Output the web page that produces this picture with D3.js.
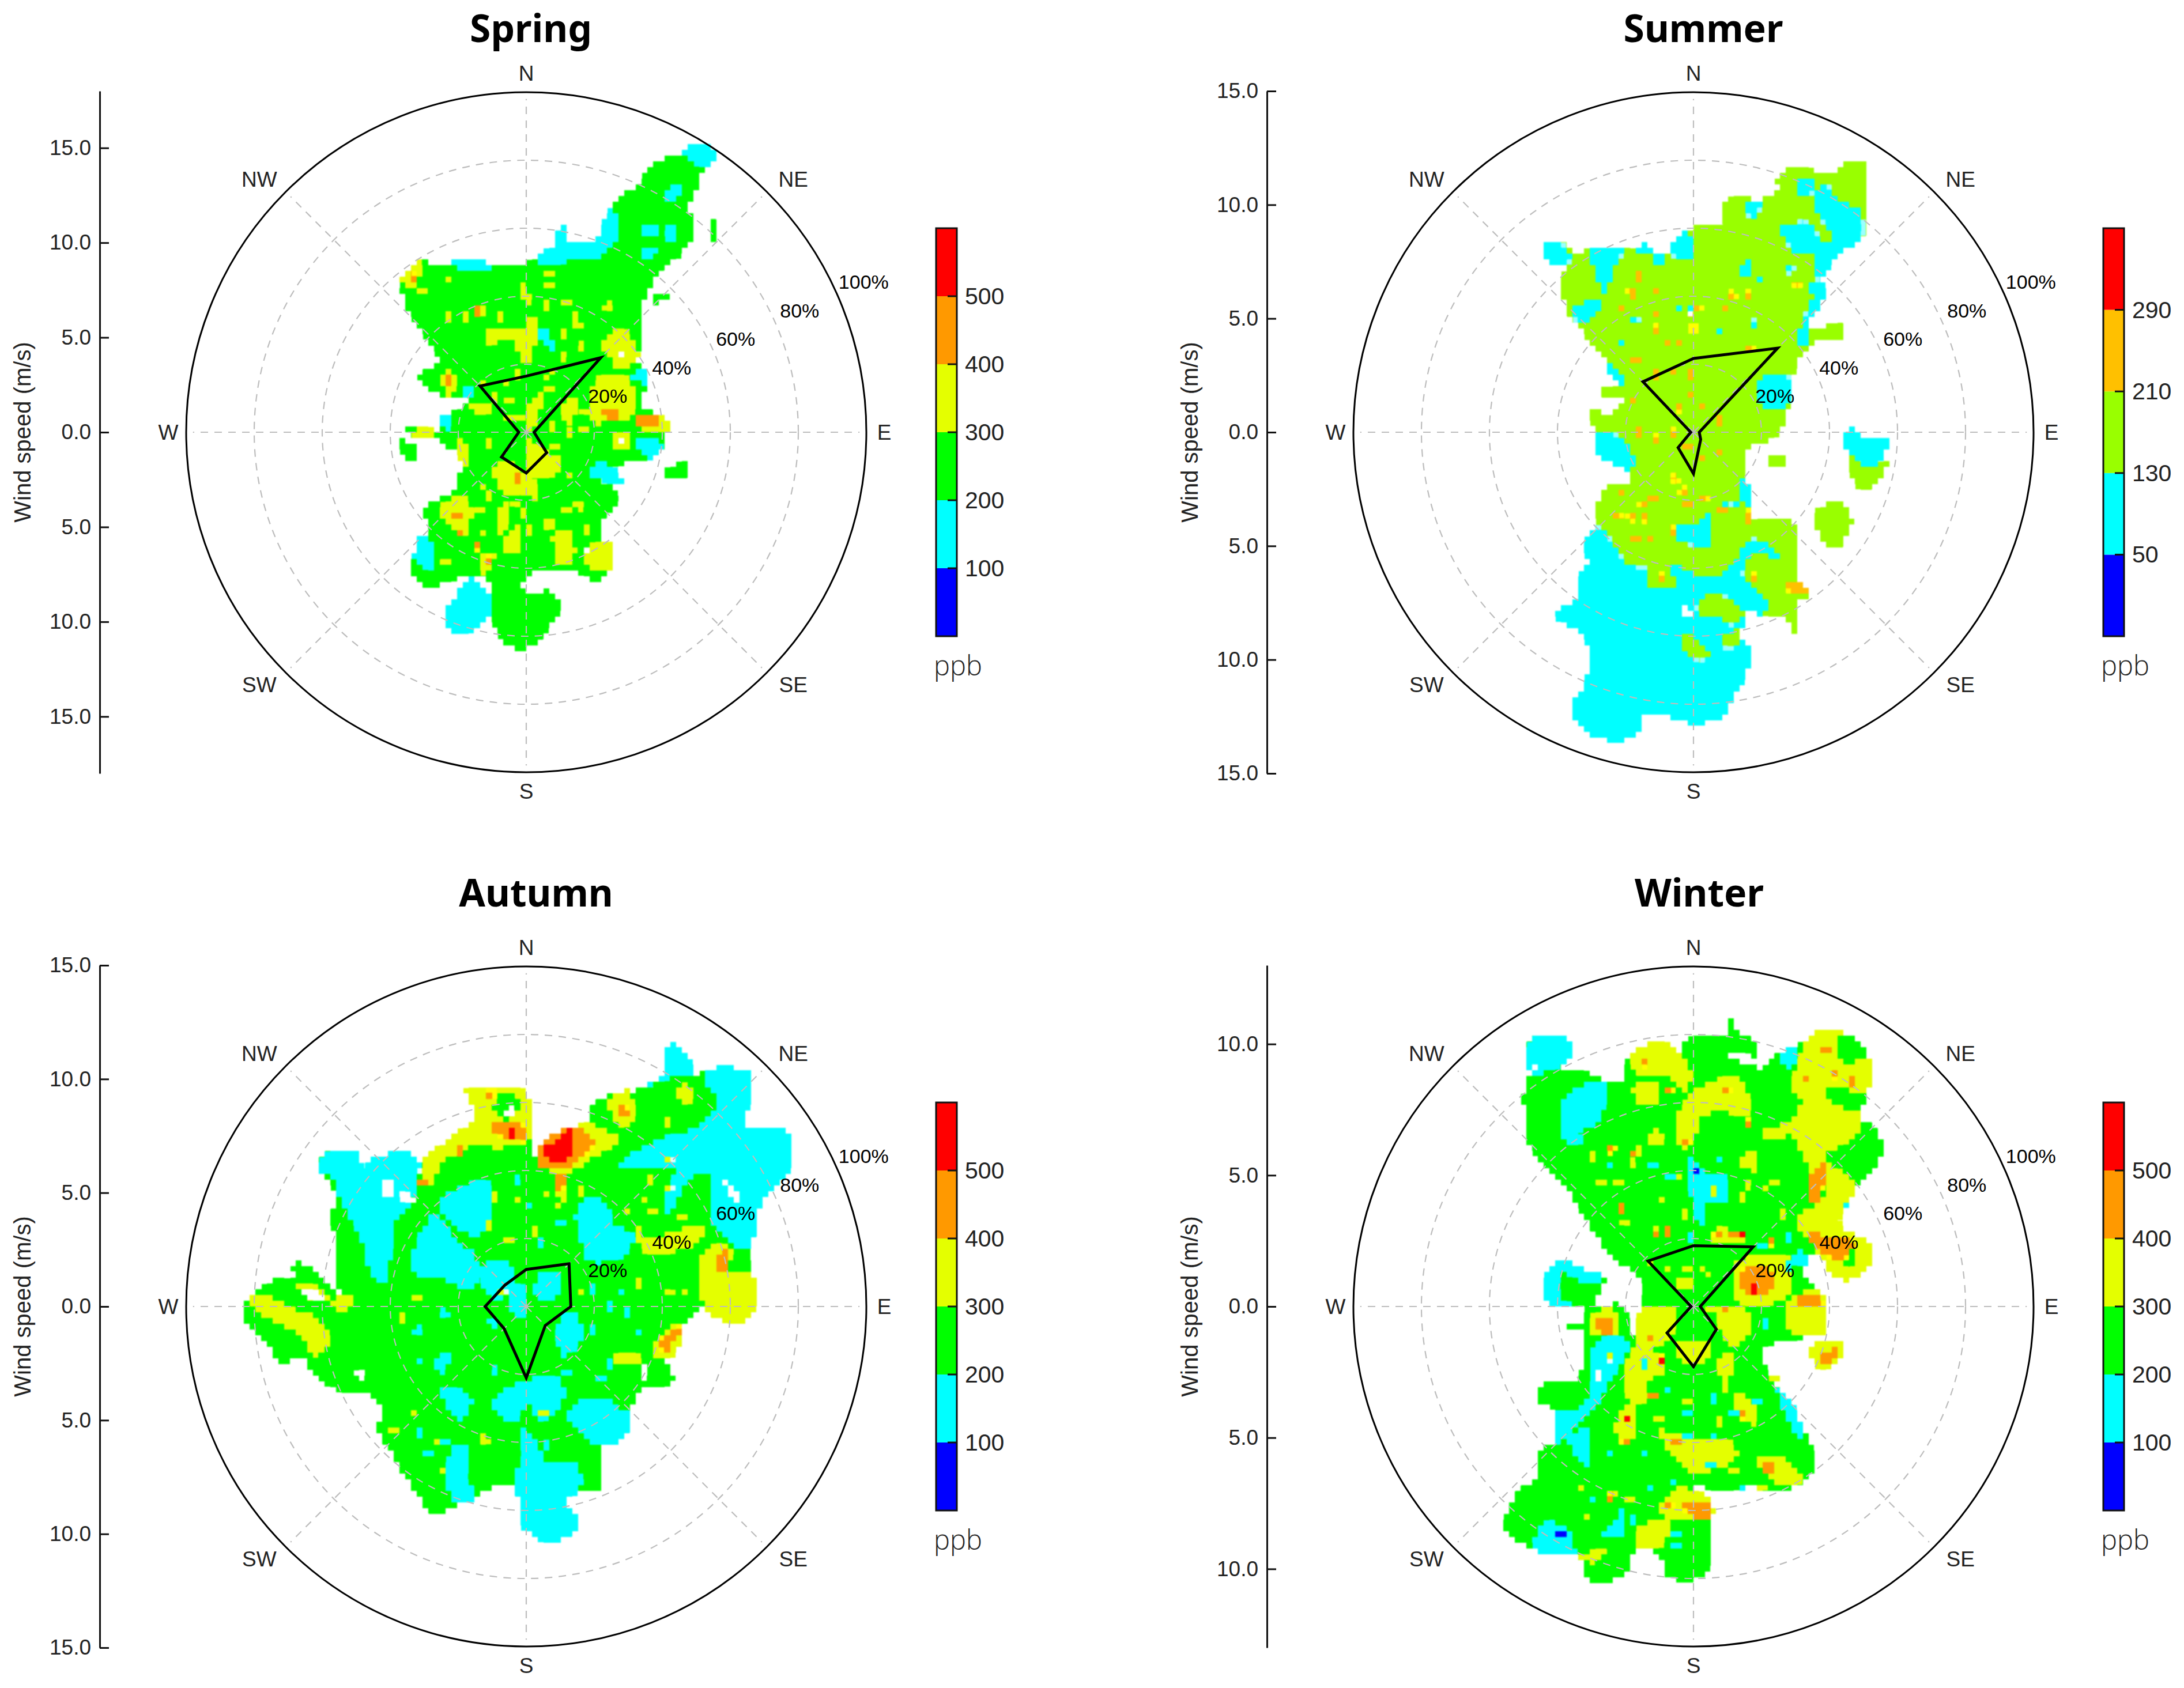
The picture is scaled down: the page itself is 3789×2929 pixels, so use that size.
<!DOCTYPE html>
<html>
<head>
<meta charset="UTF-8">
<script src="https://d3js.org/d3.v7.min.js"></script>
<style>
  body { margin: 0; background: white; }
  text { font-family: "Liberation Sans", Arial, sans-serif; fill: #222; }
  .title { font-family: "Noto Sans", sans-serif; font-weight: 700; font-size: 66px; fill: black; text-anchor: middle; }
  .grid { fill: none; stroke: #bdbdbd; stroke-width: 2.2px; stroke-dasharray: 13 11; }
  .rim { fill: none; stroke: black; stroke-width: 3px; }
  .rose { fill: none; stroke: black; stroke-width: 5px; stroke-linejoin: miter; }
  .axis path, .axis line { stroke: #111; stroke-width: 3px; }
  .axis text { font-size: 37px; font-family: "Liberation Sans", Arial, sans-serif; fill: #222; }
  .ppb { font-family: "Open Sans", sans-serif; font-weight: 300; font-size: 47px; fill: #222; }
</style>
</head>
<body>
<svg id="chart" width="3789" height="2929">
  <defs>
    <!-- the source plot is a coarse raster: sample the regions on a 10px lattice -->
    <filter id="cells" filterUnits="userSpaceOnUse" x="-600" y="-600" width="1200" height="1200" color-interpolation-filters="sRGB">
      <feFlood x="-596" y="-596" width="2" height="2" flood-color="black"/>
      <feComposite x="-600" y="-600" width="10" height="10"/>
      <feTile result="lattice"/>
      <feComposite in="SourceGraphic" in2="lattice" operator="in"/>
      <feMorphology operator="dilate" radius="4"/>
      <feGaussianBlur stdDeviation="1.3"/>
    </filter>
  </defs>
</svg>
<script>
// colour classes and colour bar ticks (ppb)
const ticksMain = [100, 200, 300, 400, 500];
const coloursMain = ['#0000ff', '#00ffff', '#00ff00', '#e4ff00', '#ff9900', '#ff0000'];
const ticksSummer = [50, 130, 210, 290];
const coloursSummer = ['#0000ff', '#00ffff', '#99ff00', '#ffc000', '#ff0000'];

const dirNames = ['N', 'NE', 'E', 'SE', 'S', 'SW', 'W', 'NW'];
const freqRings = [20, 40, 60, 80];
const freqLabels = [20, 40, 60, 80, 100];

// wind rose frequency (%), same order as dirNames
const springRose = [16.5, 31, 2.3, 8.5, 12, 10.3, 2.2, 19.2];
const summerRose = [21.7, 35, 1.7, 3, 12.2, 6.4, 0.8, 21];
const autumnRose = [10.9, 17.8, 13.1, 7.9, 21, 9.2, 12.1, 8.9];
const winterRose = [17.9, 24.8, 2, 9.5, 17.7, 11, 0.7, 18.9];

// regions are [east, north] in % of the radial axis
const springGreen = [
  [[36.8,78.1],[43.2,81.5],[51.7,79.5],[51,73.4],[47.8,66],[49.5,61.3],[47.8,55.3],[42,49.3],[39.4,47.9],[36.8,42.6],[33.5,36.5],[33.5,25.8],[32.9,21.1],[36.1,16.4],[34.2,7.7],[41.3,3.6],[41.3,-0.4],[39.4,-5.8],[32.9,-8.5],[25.1,-9.8],[19.2,-12.5],[25.7,-16.5],[26,-21.9],[22.5,-25.2],[21.8,-31.3],[24.8,-33.3],[24.8,-40],[19.9,-44],[16.6,-41.7],[8.2,-40.7],[0.4,-42],[-0.9,-46.7],[8.2,-47.1],[9.5,-52.8],[4.9,-59.5],[0.4,-63.5],[-4.8,-63.2],[-10,-54.8],[-10.6,-44],[-15.2,-42],[-21.7,-43.4],[-29.5,-45.6],[-34.3,-40],[-32.7,-36.6],[-28.8,-29.9],[-29.5,-22.6],[-19.7,-15.8],[-21,-13.8],[-16.8,-7.8],[-25.6,-3.1],[-24.9,3.6],[-20.4,6.3],[-16.5,9],[-25.6,11],[-31.4,16],[-25.6,21],[-28.2,25.8],[-36.2,39.2],[-36,45.2],[-30.8,50.6],[-25.6,49],[-10,49.3],[0.4,49.9],[9.5,52.6],[19.9,55.3],[26.4,68],[32.9,72.8]],
  [[-36.9,-2.4],[-32.7,-4.4],[-32.7,-8.5],[-35.3,-7.8]],
  [[-35.9,0.9],[-26.9,0.3],[-25,-2],[-32,-1.7]],
  [[40.6,-11.8],[47.8,-8.7],[47.8,-11],[45.9,-13.4],[40.6,-13.4]],
  [[54.9,62],[56,61],[56.3,56],[54.9,56]],
  [[37.4,39.9],[41.3,41.2],[41.3,39.2],[37.4,37.9]]
];
const springCyan = [
  [[46.5,83.5],[52.3,84.8],[55.6,81.5],[52.3,78.1],[46.5,82]],
  [[3,52],[8.2,54.6],[8.4,59.3],[12.1,60.3],[12.3,56],[19.9,56.6],[25,65.4],[27.7,60.7],[22.5,52],[10.8,50],[3,49.3]],
  [[-21.7,50],[-10,49.3],[-10,47.2],[-19.2,47.9]],
  [[-21.7,-49.4],[-16.5,-42.7],[-10,-49.4],[-10.6,-54.1],[-15.2,-58.1],[-22.3,-58.4],[-24,-52.8]],
  [[-32.7,-34],[-30.1,-29.9],[-26.9,-35.3],[-26.9,-40.7],[-32.7,-37.3]],
  [[18.6,-11.8],[22.5,-8.5],[28.3,-13.8],[28.3,-15.2],[19.9,-13.2]],
  [[41.3,70.7],[45.2,72.8],[43.9,67.4],[41.3,68]],
  [[34.8,61.3],[38.8,60.7],[38.1,57.3],[34.8,58]],
  [[41.9,61.3],[43.9,61.3],[43.9,56],[41.9,56]],
  [[34.8,54],[38,54.6],[37.4,51.3],[34.8,51.3]],
  [[4.3,31.1],[7.5,27.8],[8.2,23.8],[4.3,27]],
  [[32.9,19],[36.1,17],[35.5,14.4],[30.9,15.7]],
  [[32.9,-1.7],[39.9,-3],[37.4,-7.8],[32.9,-4.4]],
  [[-25.6,3.6],[-21.7,5.6],[-23,0.9]],
  [[-18.4,13],[-16.5,13.7],[-16.5,9.7],[-18.4,9.7]]
];
const springYellow = [
  [[-36.6,44.6],[-31.6,50.3],[-31,46.2],[-34,42.6]],
  [[-11.9,29.8],[-1.6,30.5],[1,33.8],[3,33.2],[1,21],[-1.6,21],[-4.2,27.8],[-11.9,25.6]],
  [[-1.6,43.9],[1,39.9],[0.4,37.2],[-1.6,41.2]],
  [[-23.6,19.7],[-21,15.7],[-22.3,9.7],[-24.5,13]],
  [[21.8,25],[27.7,31.1],[32.2,25],[32.9,21],[27,18.4],[25,21]],
  [[19.2,13.7],[23.1,17],[30.9,15],[30.9,5],[23.8,3],[19.9,2.3],[19.2,9]],
  [[32.9,3.6],[41.3,4.3],[41.3,-0.4],[39.4,0.3],[33.5,0.9]],
  [[25.7,-1],[29.6,-0.4],[29.6,-5],[25.7,-5]],
  [[0.4,-1.7],[4.3,-4.4],[10.8,-8.5],[8.2,-12.5],[0.4,-12.5]],
  [[-10,-11],[-6.1,-8.5],[3,-15.2],[3,-19.9],[-1.6,-17.9],[-6.1,-17.9]],
  [[-25.6,-22.6],[-18.7,-18.5],[-16.5,-27.2],[-19.1,-30.6],[-21.7,-27.9],[-24.9,-25.2]],
  [[-8.7,-23.9],[-6.1,-19.9],[-5.5,-25.9],[-6.8,-29.9],[-8.7,-28.6]],
  [[-6.1,-31.3],[-2.9,-27.2],[-1.6,-35.3],[-6.1,-35.3]],
  [[-13.2,-36],[-9.4,-35.3],[-11.9,-42],[-13.2,-40.7]],
  [[8.2,-28.6],[13.4,-29.3],[13.4,-38.7],[9.5,-38.7]],
  [[17.3,-34],[24.8,-32.9],[24.8,-40],[19.9,-40.7],[16.6,-36.6]],
  [[4.9,-25.2],[8.2,-25.2],[8.2,-27.7],[4.9,-27.7]],
  [[-16.5,8.3],[-10,8.3],[-10,6.3],[-16.5,6.3]],
  [[0.4,7.7],[4.3,11.7],[3,2.3],[0.4,0.9]],
  [[10.8,7.7],[14.7,10.3],[14.7,5],[12,2.3]],
  [[-32.7,0.9],[-26.9,0.3],[-27.5,-2],[-32.7,-1.7]],
  [[-19.7,-2.4],[-17.1,-4.4],[-17.8,-10.5],[-19.7,-7.1]]
];
const springYellowSpots = [[-22.7,44.6],[-30.8,41.9],[-8,33.8],[-23,33.8],[-17.8,33.8],[6.9,46.6],[6.9,43.2],[12.1,38.5],[23.8,37.2],[14.7,33.8],[15.3,31.1],[10.8,29.1],[10.8,37.9],[5.6,37.2],[-13.2,35.8],[16.6,25.1],[-12.6,14.4],[-9.4,10.3],[-4.8,9],[6.9,13],[5.6,15.7],[10.8,22.4],[17.3,6.3],[16.6,0.9],[12.7,-0.4],[8.2,1.7],[8.2,-4.4],[-13.9,-23.2],[-16.5,-23.9],[15.3,-21.9],[-23.6,-38.7],[12.7,-12.5],[-13,-15.8],[17.3,-28.6],[-6,14],[-2,17],[8,18],[-1,-24],[-11,-19],[-13,-30],[-3,-21],[1,-29],[12,-23],[-2,4],[-5,4],[-11,-3]];
const springOrange = [
  [[23.1,7],[27,7],[27,4.3],[23.1,4.3]],
  [[33,5],[38.3,5],[38.3,1.5],[33,1.5]]
];
const springOrangeSpots = [[-22.7,15.4],[-33.5,45.6],[-2.2,-13.6],[-20.4,-25],[-19,-29.2],[-14.5,-33.6],[-14,35.5],[-11.5,-37.5]];
const springWhiteSpots = [[28.3,22.5],[28,-2.8],[17.8,-34.8]];

const summerBase = [[24.7,75.4],[28.6,77.4],[41.6,76.8],[44.2,79.5],[50,79.5],[51.3,74.8],[51.3,65.4],[49.6,57.3],[44.2,53.3],[37.7,44.6],[39,41.2],[33.8,31.5],[44.2,31.1],[44.2,27.8],[36.4,26.4],[31.2,22.4],[29.2,15.7],[26.6,2.3],[22.7,-2.4],[15.6,-5.1],[14.9,-11.1],[16.6,-21.9],[15.6,-25.9],[29.2,-26.6],[30.5,-44.7],[34.4,-47.4],[30.5,-50.7],[29.9,-58.8],[26.6,-54.8],[20.8,-53.4],[15.6,-52.8],[14.9,-57.4],[11,-61.5],[15.8,-62.1],[16.2,-68.9],[11,-79.6],[7.8,-84.3],[-1.3,-85.6],[-7.8,-83.6],[-14.3,-83.6],[-16.9,-89.7],[-28.6,-89.7],[-35.7,-82.3],[-35.1,-78.9],[-31.8,-74.2],[-31.8,-60.8],[-39.6,-55.4],[-40.3,-52.8],[-34.4,-48.7],[-34.4,-43.4],[-31.2,-39.3],[-31.8,-32.6],[-27.9,-27.9],[-28.6,-21.9],[-24.7,-15.8],[-18.2,-14.5],[-18.8,-11.1],[-28.6,-5.8],[-28.6,-0.4],[-30.5,6.3],[-24.7,5.6],[-20.1,9.7],[-27.9,11.4],[-27.9,12.3],[-20.8,13.7],[-26,21.1],[-31.2,27.8],[-35.7,33.2],[-39,42.6],[-37.7,49.3],[-42.2,49.9],[-44.8,54],[-40.3,56.6],[-33.8,52.6],[-28.6,54.6],[-20.8,54],[-14.3,52.6],[-5.8,52.6],[-5.8,56.6],[-1.3,58.7],[0,61.6],[9.1,60.7],[8.4,66.7],[14.3,69.4],[19.5,67.4],[20.8,69.4],[24.7,70.7]];
const summerCyan = [
  [[-31.8,-32.6],[-27.9,-27.9],[-18.2,-39.3],[-5.2,-39.3],[1.3,-42],[9.1,-41.3],[13,-36.6],[16.9,-31.3],[24.7,-35.3],[22.1,-43.4],[20.8,-53.4],[15.6,-52.8],[14.9,-57.4],[11,-61.5],[15.8,-62.1],[16.2,-68.9],[11,-79.6],[7.8,-84.3],[-1.3,-85.6],[-7.8,-83.6],[-14.3,-83.6],[-16.9,-89.7],[-28.6,-89.7],[-35.7,-82.3],[-35.1,-78.9],[-31.8,-74.2],[-31.8,-60.8],[-39.6,-55.4],[-40.3,-52.8],[-34.4,-48.7],[-34.4,-43.4],[-31.2,-39.3]],
  [[-4.5,-27.9],[1.3,-27.2],[4.5,-23.9],[5.2,-32.6],[0,-33.3],[-4.5,-31.3]],
  [[35.1,67.4],[38.9,72.7],[42.8,68],[48.7,65.4],[49.6,57.3],[44.2,53.3],[37.7,44.6],[39,41.2],[33.8,31.5],[33.2,26.1],[30.5,26.1],[33.8,37],[36.4,43.9],[35.7,53.3],[40.2,57.3]],
  [[31.2,75],[35.1,74.4],[34.4,69.7],[31.2,70.3]],
  [[26,60.1],[34.4,61.5],[37,53],[29.9,53]],
  [[16.2,67.5],[19.5,67.4],[18.2,62.8],[16.2,63.5]],
  [[13.6,47],[15.6,51.7],[17.5,45.5],[13.6,45.5]],
  [[-5.8,56.6],[-1.3,58.7],[0.3,51.7],[-5.8,51.7]],
  [[-44.8,54],[-40.3,56.6],[-35.7,50.6],[-42.2,49.9]],
  [[-29.9,53.9],[-20.8,53.9],[-24,46.6],[-25.6,39.9],[-28.9,46.6]],
  [[-16.2,53.9],[-14.3,56],[-12.3,52.6],[-16.9,52.6]],
  [[-11.7,51.9],[-8.4,51.9],[-8.4,49.2],[-11.7,49.2]],
  [[-35.1,36.5],[-27.3,38.5],[-27.3,35.8],[-33.8,31.8]],
  [[19.5,15.7],[28.6,15.7],[27.3,7.7],[18.9,8.4]],
  [[-26,21.1],[-20.8,17],[-20.8,14.3],[-24,15.7]],
  [[-28.6,-0.4],[-23.4,-0.4],[-16.9,-8.4],[-18.8,-11.1],[-28.6,-5.8]],
  [[14.3,-13.7],[16.9,-17.7],[16.2,-21.7],[13.6,-19]],
  [[46.8,2.3],[48,-0.4],[57.1,-2.4],[55.8,-7],[52.6,-10.4],[45.5,-5.8],[44.2,-2.4]]
];
const summerPatches = [
  [[45.2,-5.8],[50,-10.4],[57.1,-9.1],[52.6,-15.7],[48.7,-16.4]],
  [[40.9,-20.5],[45.2,-21.9],[46.5,-27.2],[42,-33.9],[38.1,-31.9],[35.8,-27.2],[36.7,-22.6]],
  [[1.3,-50],[6.5,-47.4],[14.9,-52.8],[11.7,-56.8],[9.1,-55.5],[7.1,-54],[1.3,-53.4]],
  [[-3.9,-59.8],[-0.6,-59.8],[4.5,-65.2],[1.9,-67.2],[-3.2,-63.4]],
  [[8.4,-60.5],[13,-58.4],[12.3,-63.1],[8.4,-63.1]],
  [[-13,-38.6],[-8.4,-37.2],[-5.8,-45.3],[-13,-45.3]],
  [[14.3,-41],[19.5,-35.3],[24,-38.6],[22,-50],[18.2,-46]],
  [[22.1,-9.4],[26.6,-9.4],[26.6,-7.4],[22.1,-7.4]]
];
const summerOrange = [
  [[27.3,-44],[33.8,-46],[33.8,-47.4],[27.9,-46.7]],
  [[15.5,-26.5],[16.6,-22],[17,-26.8]]
];
const summerOrangeSpots = [[-11,34.5],[-0.6,34.5],[1.3,36.5],[9.7,36.5],[11.7,40.5],[15.6,40.5],[-11,41.9],[-16.2,45.9],[-18.4,41.2],[-17.5,39.9],[-20.8,36.5],[-10.4,30.5],[0,30.5],[-7.8,26.7],[-4.5,26.7],[30.5,43.9],[-17.1,21.1],[-0.6,17],[-0.6,11.4],[2.6,7.7],[-3.9,7.1],[-17.5,9.7],[7.5,3.6],[-16.2,-0.1],[-11,-2],[-6.5,-0.1],[7.8,-5.8],[-1.9,-4.4],[2.6,-7.8],[-5.2,-13.6],[-21.4,-17.6],[-11.7,-19.5],[-14.9,-21.5],[-3.2,-17.2],[-1.9,-21.2],[3.2,-19.2],[8.4,-23],[-22.1,-25.2],[-18.4,-25.2],[-14.3,-25.2],[-16.9,-31.9],[-12.7,-31.3],[-6.5,-28.9],[-9.7,-42.7],[17.5,-42.7],[-6,18],[-11,17],[16.8,24]];
const summerCyanSpots = [[-4.5,36.5],[18.2,31.9],[7.3,30],[-20.8,26.7],[-17.1,32.5],[19.5,45],[28.6,47.7],[34.4,42.3],[-1,36],[9.5,-21],[12,-21.8]];
const summerWhite = [[[-3.9,-51.6],[0,-52.3],[-0.6,-54.9],[-3.2,-53.6]]];

const autumnGreen = [[[41.3,76.2],[44.5,76.9],[48.4,71.5],[48.7,67.5],[54.9,69.9],[65.3,68.9],[66,60.8],[64,53.4],[77,51.4],[77,39.3],[69.2,29.9],[67.3,21.9],[65.3,16.5],[66,9.8],[67.7,3.1],[65.3,-3.6],[58.8,-4.3],[52.3,-0.3],[47.1,-5],[44.5,-7.7],[40.6,-14.4],[43.2,-21.1],[39.4,-23.8],[34.8,-23.1],[30.9,-30.5],[30.3,-34.5],[22.5,-41.2],[21.8,-53.3],[14.7,-54],[12.1,-57.3],[15.3,-64],[8.2,-69.4],[3,-68],[-1.6,-64],[-1.6,-56.6],[-4.2,-52.6],[-10,-53.3],[-17.8,-57.3],[-26.9,-60.7],[-33.4,-53.3],[-41.2,-40.5],[-43.8,-35.8],[-42.5,-30.5],[-46.4,-25.8],[-55.5,-24.4],[-63.9,-18.4],[-64.5,-15],[-72.3,-16.4],[-75.6,-11.7],[-82.1,-5],[-82.7,1.1],[-78.2,5.1],[-73.6,7.8],[-68.4,7.8],[-68.4,12.5],[-63.2,11.8],[-58.7,6.4],[-52.9,3.1],[-56.1,6.4],[-56.1,20.5],[-57.4,25.9],[-55.5,32.6],[-61.3,40.7],[-56.8,46],[-50.3,45.4],[-47.7,40.7],[-44.4,44],[-33.4,44.7],[-31.4,42],[-26.9,46],[-17.8,52.8],[-14.5,55.4],[-17.8,63.5],[-8.7,64.8],[-0.9,63.5],[1,60.1],[1,50],[3,43.4],[5.6,47.4],[13.4,52.8],[19.2,53.4],[19.2,58.1],[25.7,62.8],[31.6,63.5],[41.3,68.2]]];
const autumnCyan = [
  [[54.9,69.9],[65.3,68.9],[66,60.8],[64,53.4],[77,51.4],[77,39.3],[69.2,29.9],[67.3,21.9],[64,16.5],[58.8,20.5],[54.9,24.5],[53.6,39.3],[48.4,38],[41.9,27.2],[40.6,34],[44.5,40.7],[26.4,40.7],[38,48.7],[49.7,52.8],[56.2,59.4],[52.3,67.5]],
  [[41.3,76.2],[44.5,76.9],[48.4,71.5],[48.4,68.2],[43.2,67.5],[34.8,64.8],[40.6,68.9]],
  [[-61.3,40.7],[-56.8,46],[-50.3,45.4],[-47.7,40.7],[-44.4,44],[-33.4,44.7],[-31.4,42],[-34,29.9],[-38.6,24.6],[-41.2,7.8],[-45,8.5],[-48.8,20.5],[-55.5,32.6],[-56.8,37.9]],
  [[-25.6,31.3],[-11.3,36.6],[-10,25.9],[-15.2,20.5],[-23,25.9]],
  [[-33.4,15.2],[-26.9,27.2],[-20.4,19.2],[-15.2,15.2],[-15.2,5.8],[-21.7,6.4],[-25.6,8.5],[-33.4,9.8]],
  [[-12.6,12.5],[-4.8,12.5],[-6.1,3.1],[-11.3,3.1]],
  [[14.7,28.6],[21.2,32.6],[25,24.6],[17.3,17.9]],
  [[17.3,19.2],[23.8,24.6],[31.6,20.5],[27,13.8],[16.6,13.8]],
  [[-10,-27.8],[-1.6,-22.4],[8.2,-20.4],[11.4,-25.8],[5.6,-33.2],[3,-33.2],[0.4,-29.1],[-4.2,-34.5]],
  [[11.4,-31.8],[19.9,-26.4],[30.9,-33.2],[26.4,-39.9],[21.2,-41.2],[16,-37.2]],
  [[-1.6,-35.8],[3,-39.9],[5.6,-45.3],[14.7,-46.6],[16,-53.3],[12.1,-57.3],[15.3,-64],[8.2,-69.4],[3,-68],[-1.6,-64],[-1.6,-56.6],[-4.2,-52.6],[-0.9,-43.9]],
  [[-21.7,-41.2],[-16.5,-41.2],[-17.8,-50.6],[-14.5,-56],[-21.7,-57.3]],
  [[-25.6,-13],[-22.3,-14.4],[-25.6,-22.4],[-21,-23.8],[-15.8,-27.8],[-19.7,-33.2],[-24.3,-27.8]],
  [[9.5,-5],[13.4,-0.9],[16.6,-9],[10.8,-15]],
  [[-6,8],[-1,6],[0,-3],[-4,-2]],
  [[4,10],[10,9],[9,3],[3,3]]
];
const autumnYellow = [
  [[-31.4,40.7],[-26.9,46],[-17.8,52.8],[-14.5,55.4],[-17.8,63.5],[-8.7,64.8],[-0.9,63.5],[1,60.1],[1,48.7],[-6.1,46.7],[-17.8,46.7],[-25.6,40.7],[-28.8,35.4]],
  [[3,43.4],[5.6,47.4],[13.4,52.8],[19.2,53.4],[27,49.4],[17.3,42],[12.1,38],[11.4,31.3],[9.5,31.9],[8.2,39.3],[3,40.7]],
  [[24.4,60.1],[30.3,63.5],[30.9,54.1],[27,53.4]],
  [[45.2,64.8],[48.2,64.8],[48.2,60.1],[45.2,60.1]],
  [[32.9,23.2],[35.5,20.5],[52.3,23.9],[53.4,21.9],[47.1,17.2],[34.2,16.5]],
  [[52.3,16.5],[60.1,17.2],[60.1,10.5],[66,9.8],[67.7,3.1],[65.3,-3.6],[58.8,-4.3],[52.3,0.4]],
  [[37.4,-11.7],[43.9,-5.6],[46.5,-7.7],[43.2,-14.4],[40.6,-15.7],[37.4,-15]],
  [[26.4,-14.4],[34.2,-15],[34.2,-17],[26.4,-16.4]],
  [[-82.5,1.7],[-76.2,3.1],[-68.4,-0.9],[-63.2,-2.3],[-58.7,-7],[-58.7,-12.3],[-63.2,-14.4],[-64.5,-10.3],[-69,-7],[-74.8,-4.3],[-79.7,-0.9]],
  [[-67,6.5],[-63.2,6.5],[-58,2.3],[-65.8,3]],
  [[-56.8,1.7],[-50.3,3.1],[-52.9,-0.9],[-56.1,-0.9]]
];
const autumnGreenPatches = [[[-9.4,60],[-4.8,63.5],[-1.6,59.5],[-4.8,54.8],[-8.7,56]]];
const autumnOrange = [
  [[3,42],[4.3,47.4],[12.8,52.8],[19.2,50],[19.9,47.4],[12.1,40.7],[10.1,40],[4.3,40.7]],
  [[-10.6,52.8],[-1.6,54],[0.4,48.7],[-4.2,48.7],[-8.7,50.7]],
  [[-12.6,62.8],[-9.4,63.5],[-10,60]],
  [[-21,47],[-19,46.5],[-20,43]],
  [[56.2,15.2],[58.8,16.5],[58.2,9.8],[56.2,9.8]],
  [[39,-10.5],[45,-6],[45.5,-7.5],[41.5,-11.5],[43,-13.5],[40.5,-13.5]],
  [[28,59],[29.5,59],[29.5,55.5],[28,55.5]],
  [[8.5,34.8],[11,34.8],[10.8,39],[8.7,39]]
];
const autumnRed = [[[4.9,48],[10.1,48.7],[11.4,52.1],[14,51.4],[13.4,46],[12.1,43.4],[6.9,43.4]]];
const autumnRedSpots = [[-4.7,50.8]];
const autumnOrangeSpots = [[-30.5,36.8]];
const autumnYellowSpots = [[-37,-3.5],[-9,32],[-3,31],[6,33],[9,30],[16,34],[-11,24],[-5,20],[2,22],[36,37],[42,35],[35,31],[37,28],[46,26],[42,43],[42,54],[30,28],[5,-31],[-26,-40],[-12,-39],[-25,-48],[-33,-31],[-13,-38.5],[33,7],[42,4],[47,4],[16,4],[-7,4],[-32,3],[-39,-36]];
const autumnCyanSpots = [[-32,-7],[-24,-2],[-26,-17],[-31,-16],[-10,-5],[19,-7],[24,-17],[22,-21],[30,-2],[12,-19],[-20,-43],[-31,-37],[20,5],[28,4],[24,0],[33,-8],[4,19],[10,25],[1,30],[-3,37],[-29,-43],[-24,-40],[-9,-19],[6,-41]];
const autumnWhite = [
  [[-42.5,37],[-40,37],[-39.5,33],[-42,33]],
  [[-36.5,33.5],[-33.5,32],[-33,30.5],[-36.5,31.5]],
  [[57,39],[60,36],[63,33],[62,31],[58,36]],
  [[-66.3,5.5],[-60,3],[-60,1.8],[-66,3.8]],
  [[-50,-19.5],[-48,-19.5],[-48,-21],[-50,-21]],
  [[34,-17.5],[35,-17.5],[35,-21],[34,-21]]
];
const autumnWhiteSpots = [[-5,57.5]];

const winterGreen = [[[-48.7,76.2],[-45.5,79.6],[-37.7,79.6],[-35.3,74.9],[-39,70.2],[-32.5,68.9],[-20.8,66.2],[-18.8,73.6],[-11.7,77.6],[-5.8,76.2],[-0.6,68.2],[-3.9,74.9],[-0.6,78.9],[9.1,79.6],[11,85],[13,80.3],[18.2,77.6],[19.5,69.5],[26,74.9],[32.5,77.6],[36.4,80.9],[44.8,80.3],[51.3,73.6],[51.3,62.1],[48.7,55.4],[52.6,52.8],[55.8,46],[50,37.3],[44.2,29.9],[42.9,23.2],[51.3,19.2],[51.3,11.1],[46.8,7.8],[41.6,8.5],[36.4,15.2],[30.5,13.8],[34.4,7.1],[38.3,-0.9],[38.3,-7.7],[28.6,-9.7],[20.8,-12.3],[20.8,-17],[26,-25.8],[33.8,-38.5],[35.1,-47.9],[30.5,-52.6],[23.4,-54.6],[18.2,-52.6],[9.1,-54],[0,-53.3],[5.2,-62.7],[5.2,-73.4],[2.6,-79.5],[-7.8,-79.5],[-9.7,-73.4],[-16.2,-70.7],[-20.8,-79.5],[-31.8,-80.1],[-33.8,-73.4],[-45.5,-72.1],[-55.2,-65.4],[-51.9,-55.3],[-45.5,-49.3],[-46.1,-42.6],[-40.3,-39.9],[-40.3,-30.5],[-45.5,-27.8],[-44.2,-22.4],[-35.1,-22.4],[-31.8,-14.4],[-32.5,-7.7],[-37.7,-7],[-37.7,-5.6],[-32.5,-5],[-31.8,0.4],[-42.2,0.4],[-43.5,8.5],[-39.6,13.8],[-31.2,10.5],[-26,8.5],[-29.2,0.4],[-20.8,0.4],[-18.2,-9],[-14.9,0.4],[-14.9,7.8],[-23.4,13.8],[-31.2,25.2],[-37.7,35.3],[-44.2,42],[-48.7,48.7],[-48.7,55.4],[-50,60.8],[-48.1,67.5],[-45.5,68.9]],
  [[34.4,-11.7],[39.6,-10.3],[43.5,-9.7],[43.5,-14.4],[37.7,-18.4],[34.4,-15]]
];
const winterCyan = [
  [[-48.7,76.2],[-45.5,79.6],[-37.7,79.6],[-35.3,74.9],[-39,70.9],[-46.8,68.2],[-49,70.2]],
  [[-39,58.1],[-37.7,62.1],[-29.9,66.2],[-26,66.2],[-28.6,52.8],[-33.8,51.4],[-32.5,48.7],[-37.7,48.7]],
  [[-0.6,44.7],[3.2,39.3],[8.4,39.3],[10.4,31.3],[3.2,29.9],[2.6,23.2],[0,27.2]],
  [[-43.5,8.5],[-39.6,13.8],[-31.2,10.5],[-26.6,8.5],[-29.9,6.4],[-38.9,9.8],[-38.9,1.7],[-32.5,0.4],[-42.2,0.4]],
  [[-28.6,-10.3],[-18.8,-10.3],[-24.7,-22.4],[-28.6,-29.1],[-40.3,-39.9],[-40.3,-30.5],[-33.8,-30.5],[-29.9,-22.4]],
  [[-36.4,-37.9],[-31.2,-35.8],[-31.2,-46.6],[-36.4,-41.2]],
  [[-46.8,-68.2],[-42.9,-63.4],[-36.4,-66.7],[-35.1,-72.8],[-45.5,-72.1]],
  [[24.7,-24.4],[27.3,-25.8],[32.5,-38.5],[30.5,-37.9]],
  [[44.2,29.9],[48,35.3],[45.5,29.9]],
  [[26.6,75.6],[30.5,75.6],[30.5,70.9],[26.6,70.9]],
  [[-26.6,-66.7],[-20.8,-62.7],[-21.4,-68]],
  [[28,13.5],[32,16.5],[33,12.5]]
];
const winterYellow = [
  [[-18.8,73.6],[-11.7,77.6],[-5.8,76.2],[-0.6,68.2],[-2.6,63.5],[-7.8,67.5],[-15.6,68.2]],
  [[-5.8,52.8],[1.3,64.2],[14.3,66.8],[15.6,55.4],[9.1,57.4],[2.6,55.4],[-0.6,47.4],[-3.9,46.7]],
  [[33.1,77.6],[36.4,80.9],[44.8,80.3],[42.2,74.2],[45.5,71.5],[51.3,73.6],[51.3,63.5],[38.3,64.8],[48.7,56.7],[48,49.9],[45.5,48.6],[39,43.9],[48,35.3],[44.2,29.9],[43.5,23.2],[51.3,19.2],[51.3,11.1],[46.8,7.8],[41.6,8.5],[37.1,15.2],[30.5,25.9],[38.9,32.6],[33.1,42],[28.6,50],[22.1,48.6],[20.1,52.6],[27.3,53.9],[31.8,60.6],[29.2,63.5]],
  [[12.3,12.5],[17.5,15.2],[28.6,13.8],[27.3,3.1],[15.6,0.4],[12.3,3.1]],
  [[27.9,1.7],[37.7,4.4],[38.3,-7.7],[33.8,-9],[28,-7]],
  [[34.4,-11.7],[39.6,-10.3],[43.5,-9.7],[43.5,-14.4],[37.7,-18.4],[34.4,-15]],
  [[-17.5,-9],[-14.3,-0.3],[-5.2,-0.3],[-5.2,-6.3],[-11.7,-13],[-14.3,-15.7]],
  [[-18.2,-13],[-11.7,-13.7],[-7.8,-18.4],[-14.3,-22.4],[-14.3,-27.8],[-18.8,-27.8]],
  [[-29.9,-2.9],[-24.7,-0.3],[-21.4,-7.7],[-29.9,-7.7]],
  [[-10.4,-36.5],[1.3,-39.2],[11,-39.9],[13,-44],[7.8,-47.4],[0,-49.3],[-5.2,-44.8]],
  [[18.8,-44.6],[24.7,-43.9],[32.5,-50.6],[27.3,-52.6],[23.4,-51.9]],
  [[-22.1,-31.8],[-16.9,-27.8],[-18.2,-39.9],[-22.1,-39.2]],
  [[13,-25.1],[18.2,-29.1],[18.2,-34.5],[13.6,-33.2]],
  [[-9.1,-57.3],[-3.9,-53.3],[5.2,-57.3],[5.2,-62.7],[-3.9,-62.7],[-9.7,-61.3]],
  [[-16.2,-65.4],[-11,-62.7],[-7.1,-64],[-9.7,-70.7],[-16.2,-71.4]],
  [[-33.8,-72.9],[-26,-72.1],[-29.9,-75.4]],
  [[13,43.4],[18.2,45.4],[18.2,40],[14.3,40.7]],
  [[-17.5,64.8],[-11,65.5],[-9.7,60.1],[-14.3,58.8],[-16.9,60.8]],
  [[-12.3,51.4],[-9.7,52.1],[-9.7,47.4],[-12.3,47.4]],
  [[5.8,22.6],[13,21.9],[15.6,19.2],[5.8,19.2]],
  [[2.6,13.8],[6.5,15.2],[6.5,9.8],[3.2,9.8]],
  [[-4.5,8],[-0.6,8],[-0.6,5.4],[-4.5,5.4]],
  [[6.5,0.4],[16.9,-2.3],[16.9,-7.7],[11.7,-11.7],[7.8,-6.3]],
  [[7.8,-14.4],[11.7,-14.4],[9.1,-25.8]],
  [[-5,-11],[5,-11],[3,-17],[-3,-17]]
];
const winterGreenPatches = [
  [[42.9,79.6],[46.7,79.6],[49.4,72.9],[43.5,72.1]],
  [[38.3,63.5],[45.5,63.5],[46.8,58.1],[41.6,59.5]],
  [[6,16],[2,13],[6,9]],
  [[44,15],[47,17],[48,12],[45,11]]
];
const winterOrange = [
  [[34.4,38],[38.9,42.7],[38.3,36.6],[37,31.3],[34.4,31.3]],
  [[33.1,22.6],[38.9,20.5],[46.1,20.5],[46.1,15.2],[41.6,13.8],[36.4,17.2]],
  [[13.6,9.8],[16.9,12.5],[23.4,9.8],[22.7,4.4],[16.2,3.1],[13.6,5.8]],
  [[30.5,3.1],[37.7,3.1],[37.7,-0.3],[30.5,0.4]],
  [[37.7,-14.5],[42.9,-12.5],[42.9,-14.5],[38.3,-16.5]],
  [[-28,-4],[-24,-3.6],[-23.6,-7.4],[-28,-7.4]],
  [[-2.6,-58],[3.9,-57.3],[5.2,-63],[-1.9,-61]],
  [[-13.5,-8],[-12,-8],[-12,-10],[-13.5,-10]],
  [[-6,-38.5],[-3.5,-38.5],[-3.5,-41],[-6,-41]],
  [[21,-46],[24,-46],[24,-49],[21,-49]]
];
const winterOrangeSpots = [[-24,46],[-17.5,44.5],[-21,29],[-11,21],[-7.8,22],[7,21.5],[12,21],[23,19],[-2,48.5],[16.5,54],[10,63],[14,-32],[-20,-40],[-12,-26],[-14,71.5],[33,67],[39,76],[46.5,66],[42,68],[-7,64],[9,-1],[-24,-56],[-7,-58]];
const winterRedSpots = [[17.5,5],[14,21.5],[-9,-15.5],[-19.6,-33]];
const winterBlueSpots = [[1.3,39.3],[-39,-67.5]];
const winterYellowSpots = [[-27,37],[-22,36],[-18,42],[-9,31],[-4,38],[6,34],[14,32],[21,35],[-20,25],[-11,22],[-3,27],[-13,13],[-8,11],[-2,11],[5,-1],[16,36],[24,36],[26,27],[-25,-15],[-2,-28],[8,-34],[24,-21],[-19,-57],[-24,-55],[-33,-53],[-10,-33],[12,-48],[26,-46],[20,-53],[-31,-62],[-29,44],[-16,46]];
const winterCyanSpots = [[-25,42],[-12,41],[-7,38],[8,43],[-1,20],[20,18],[28,20],[28,12],[-8,-25],[-2,-31],[6,-27],[12,-31],[19,-28],[6,-38],[-25,-43],[-14,-43],[5,-47],[-6,-52],[-30,-57],[-13,-53],[-5,-67],[-5,-70],[14,-53],[-14,-17],[21,-5],[-2,-38],[-21,-61],[-18,-63]];
const winterWhite = [[[-29,-19],[-28,-19],[-28,-22],[-29,-22]],[[10,74],[18,73],[18,72],[10,73]],[[-47.5,70.5],[-46.5,70.5],[-46.5,69],[-47.5,69]]];

// one row per season, values in ppb stand for the colour class of each layer
const seasons = [
  { title: 'Spring', titleX: 921, titleY: 73, cx: 913, cy: 750, speedMax: 18, rose: springRose, ticks: ticksMain, colours: coloursMain,
    layers: [[250, springGreen], [150, springCyan], [350, springYellow], [450, springOrange]],
    spots: [[350, springYellowSpots], [450, springOrangeSpots], [null, springWhiteSpots]] },
  { title: 'Summer', titleX: 2955, titleY: 73, cx: 2938, cy: 750, speedMax: 15, rose: summerRose, ticks: ticksSummer, colours: coloursSummer,
    layers: [[170, [summerBase]], [90, summerCyan], [170, summerPatches], [250, summerOrange], [null, summerWhite]],
    spots: [[250, summerOrangeSpots], [90, summerCyanSpots]] },
  { title: 'Autumn', titleX: 930, titleY: 1573, cx: 913, cy: 2267, speedMax: 15, rose: autumnRose, ticks: ticksMain, colours: coloursMain,
    layers: [[250, autumnGreen], [150, autumnCyan], [350, autumnYellow], [250, autumnGreenPatches], [450, autumnOrange], [550, autumnRed], [null, autumnWhite]],
    spots: [[350, autumnYellowSpots], [150, autumnCyanSpots], [450, autumnOrangeSpots], [550, autumnRedSpots], [null, autumnWhiteSpots]] },
  { title: 'Winter', titleX: 2948, titleY: 1573, cx: 2938, cy: 2267, speedMax: 13, rose: winterRose, ticks: ticksMain, colours: coloursMain,
    layers: [[250, winterGreen], [150, winterCyan], [350, winterYellow], [250, winterGreenPatches], [450, winterOrange], [null, winterWhite]],
    spots: [[350, winterYellowSpots], [150, winterCyanSpots], [450, winterOrangeSpots], [550, winterRedSpots], [50, winterBlueSpots]] }
];

const svg = d3.select('#chart');
const rimR = 590;
const axisR = 592;
const barHeight = 708;

const rScale = d3.scaleLinear().domain([0, 100]).range([0, rimR]);
const xScale = d3.scaleLinear().domain([-100, 100]).range([-rimR, rimR]);
const yScale = d3.scaleLinear().domain([-100, 100]).range([rimR, -rimR]);
const angle = d3.scalePoint().domain(dirNames).range([0, 315]);
const regionLine = d3.line().x(d => xScale(d[0])).y(d => yScale(d[1])).curve(d3.curveCatmullRomClosed.alpha(0.5));
const rad = d => d * Math.PI / 180;

seasons.forEach(s => {
  const g = svg.append('g').attr('transform', 'translate(' + s.cx + ',' + s.cy + ')');
  const colour = d3.scaleThreshold().domain(s.ticks).range(s.colours);
  const fillOf = v => v === null ? 'white' : colour(v);

  svg.append('text').attr('class', 'title').attr('x', s.titleX).attr('y', s.titleY).text(s.title);

  // concentration regions
  const field = g.append('g').attr('filter', 'url(#cells)');
  s.layers.forEach(l => {
    field.append('g').selectAll('path').data(l[1]).join('path')
      .attr('d', regionLine).attr('fill', fillOf(l[0])).attr('shape-rendering', 'crispEdges');
  });
  s.spots.forEach(l => {
    field.append('g').selectAll('circle').data(l[1]).join('circle')
      .attr('cx', d => xScale(d[0])).attr('cy', d => yScale(d[1])).attr('r', 7)
      .attr('fill', fillOf(l[0])).attr('shape-rendering', 'crispEdges');
  });

  // frequency rings and spokes
  g.selectAll('circle.ring').data(freqRings).join('circle')
    .attr('class', 'grid ring').attr('r', d => rScale(d));
  g.selectAll('line.spoke').data(dirNames).join('line')
    .attr('class', 'grid spoke')
    .attr('x2', d => rScale(98) * Math.sin(rad(angle(d))))
    .attr('y2', d => -rScale(98) * Math.cos(rad(angle(d))));
  g.append('circle').attr('class', 'rim').attr('r', rimR);

  // wind rose
  const rose = d3.lineRadial()
    .angle((d, i) => rad(angle(dirNames[i])))
    .radius(d => rScale(d))
    .curve(d3.curveLinearClosed);
  g.append('path').attr('class', 'rose').attr('d', rose(s.rose));

  // compass labels
  g.selectAll('text.dir').data(dirNames).join('text')
    .attr('class', 'dir')
    .attr('x', d => (angle(d) % 90 ? 655 : 621) * Math.sin(rad(angle(d))))
    .attr('y', d => -(angle(d) % 90 ? 620 : 623) * Math.cos(rad(angle(d))))
    .attr('text-anchor', 'middle').attr('dominant-baseline', 'central')
    .attr('font-size', 37).text(d => d);

  // percent labels along one radial
  g.selectAll('text.pct').data(freqLabels).join('text')
    .attr('class', 'pct')
    .attr('x', d => (rScale(d) * 1.03 + 33) * Math.sin(rad(66)))
    .attr('y', d => -(rScale(d) * 1.03 + 33) * Math.cos(rad(66)))
    .attr('text-anchor', 'middle').attr('dominant-baseline', 'central')
    .attr('font-size', 34).style('fill', 'black').text(d => d + '%');

  // wind speed axis
  const speed = d3.scaleLinear().domain([-s.speedMax, s.speedMax]).range([axisR, -axisR]);
  const speedTicks = d3.range(-Math.floor(s.speedMax / 5) * 5, s.speedMax + 0.01, 5);
  g.append('g').attr('class', 'axis').attr('transform', 'translate(-740,0)')
    .call(d3.axisLeft(speed).tickValues(speedTicks).tickSizeOuter(0).tickSizeInner(-16).tickPadding(15)
      .tickFormat(d => Math.abs(d).toFixed(1)));
  g.append('text').attr('transform', 'translate(-874,0) rotate(-90)')
    .attr('text-anchor', 'middle').attr('dominant-baseline', 'central')
    .attr('font-size', 40).text('Wind speed (m/s)');

  // colour bar, one equal band per colour
  const bar = g.append('g').attr('transform', 'translate(711,0)');
  const step = barHeight / s.colours.length;
  const stepV = s.ticks[1] - s.ticks[0];
  const barY = d3.scaleLinear().domain([s.ticks[0] - stepV, s.ticks[0]]).range([354, 354 - step]);
  const lows = [s.ticks[0] - stepV].concat(s.ticks);
  bar.selectAll('rect.seg').data(lows).join('rect')
    .attr('class', 'seg').attr('x', 0).attr('width', 36)
    .attr('y', d => barY(d + stepV)).attr('height', step)
    .attr('fill', (d, i) => s.colours[i]);
  bar.append('rect').attr('x', 0).attr('width', 36).attr('y', 354 - barHeight).attr('height', barHeight)
    .attr('fill', 'none').attr('stroke', '#111').attr('stroke-width', 3);
  bar.selectAll('line.tk').data(s.ticks).join('line')
    .attr('class', 'tk').attr('x1', 20).attr('x2', 35)
    .attr('y1', d => barY(d)).attr('y2', d => barY(d))
    .attr('stroke', '#111').attr('stroke-width', 3);
  bar.selectAll('text.tl').data(s.ticks).join('text')
    .attr('class', 'tl').attr('x', 50).attr('y', d => barY(d))
    .attr('dominant-baseline', 'central').attr('font-size', 41).text(d => d);
  bar.append('text').attr('class', 'ppb').attr('x', -4).attr('y', 422).text('ppb');
});
</script>
</body>
</html>
